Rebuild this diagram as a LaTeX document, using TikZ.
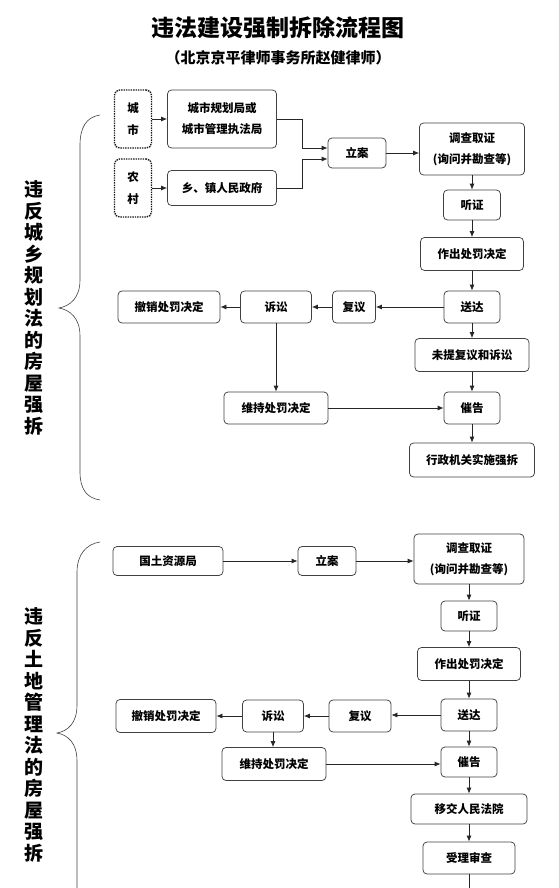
\documentclass[tikz,border=0pt]{standalone}
\usepackage{fontspec}
\setmainfont{Noto Sans CJK SC}
\usepackage{tikz}
\usetikzlibrary{shapes,arrows.meta,positioning,calc}

\begin{document}
\begin{tikzpicture}[
    x=1pt, y=-1pt,
    stepbox/.style={rectangle, draw=black!75, line width=0.75pt, rounded corners=4pt, minimum height=31pt, inner sep=2pt, align=center, font=\bfseries\fontsize{11.5}{21}\selectfont},
    areabox/.style={rectangle, draw=black!90, densely dotted, line width=1.4pt, rounded corners=5pt, minimum width=37pt, minimum height=58pt, align=center, font=\bfseries\fontsize{11.5}{22}\selectfont},
    arrow/.style={-{Latex[length=6pt,width=5pt]}, draw=black!85, line width=0.75pt},
    brace/.style={draw=black!75, line width=0.6pt},
    sidetext/.style={align=center, font=\bfseries\fontsize{19}{21.5}\selectfont}
]
\useasboundingbox (0,0) rectangle (558,888);

% Title
\node[font=\bfseries\fontsize{23}{27}\selectfont] (title) at (278,28) {违法建设强制拆除流程图};
\node[font=\bfseries\fontsize{15}{18}\selectfont] (subtitle) at (278,58) {（北京京平律师事务所赵健律师）};

% Upper part: urban and rural planning law
\node[sidetext] (law1) at (34,308) {违\\反\\城\\乡\\规\\划\\法\\的\\房\\屋\\强\\拆};
\draw[brace] (100,115) .. controls (86,117) and (80,128) .. (80,145) -- (80,280)
    .. controls (80,298) and (70,306) .. (59,308) .. controls (70,310) and (80,318) .. (80,336)
    -- (80,472) .. controls (80,488) and (86,498) .. (100,500);

\node[areabox] (city) at (133,119) {城\\市};
\node[areabox] (village) at (133,188) {农\\村};
\node[stepbox, minimum width=109pt, minimum height=58pt] (plan) at (222,119) {城市规划局或\\城市管理执法局};
\node[stepbox, minimum width=109pt, minimum height=35pt] (town) at (222,188) {乡、镇人民政府};
\node[stepbox, minimum width=58pt, minimum height=30pt] (case) at (357,153) {立案};
\node[stepbox, minimum width=105pt, minimum height=52pt] (survey) at (472,149) {调查取证\\(询问并勘查等)};
\node[stepbox, minimum width=57pt, minimum height=30pt] (hearing) at (472,205) {听证};
\node[stepbox, minimum width=103pt, minimum height=33pt] (decision) at (472,254) {作出处罚决定};
\node[stepbox, minimum width=56pt, minimum height=32pt] (deliver) at (472,307) {送达};
\node[stepbox, minimum width=43pt, minimum height=32pt] (review) at (354,307) {复议};
\node[stepbox, minimum width=71pt, minimum height=32pt] (lawsuit) at (276,307) {诉讼};
\node[stepbox, minimum width=102pt, minimum height=32pt] (revoke) at (169,307) {撤销处罚决定};
\node[stepbox, minimum width=114pt, minimum height=33pt] (noappeal) at (472,355) {未提复议和诉讼};
\node[stepbox, minimum width=104pt, minimum height=32pt] (uphold) at (276,408) {维持处罚决定};
\node[stepbox, minimum width=56pt, minimum height=32pt] (urge) at (472,408) {催告};
\node[stepbox, minimum width=125pt, minimum height=34pt] (enforce) at (472,460) {行政机关实施强拆};

\draw[arrow] (city) -- (plan);
\draw[arrow] (village) -- (town);
\draw[arrow] (plan.east) -| ([xshift=-25pt,yshift=5pt]case.west) -- ([yshift=5pt]case.west);
\draw[arrow] (town.east) -| ([xshift=-25pt,yshift=-6pt]case.west) -- ([yshift=-6pt]case.west);
\draw[arrow] (case.east) -- (case.east -| survey.west);
\draw[arrow] (survey) -- (hearing);
\draw[arrow] (hearing) -- (decision);
\draw[arrow] (decision) -- (deliver);
\draw[arrow] (deliver) -- (review);
\draw[arrow] (review) -- (lawsuit);
\draw[arrow] (lawsuit) -- (revoke);
\draw[arrow] (lawsuit) -- (uphold);
\draw[arrow] (deliver) -- (noappeal);
\draw[arrow] (noappeal) -- (urge);
\draw[arrow] (uphold) -- (urge);
\draw[arrow] (urge) -- (enforce);

% Lower part: land administration law
\node[sidetext] (law2) at (34,735) {违\\反\\土\\地\\管\\理\\法\\的\\房\\屋\\强\\拆};
\draw[brace] (100,542) .. controls (86,544) and (77,555) .. (77,572) -- (77,705)
    .. controls (77,723) and (68,731) .. (57,733) .. controls (68,735) and (77,743) .. (77,761)
    -- (77,888);

\node[stepbox, minimum width=110pt, minimum height=29pt] (land) at (168,561) {国土资源局};
\node[stepbox, minimum width=58pt, minimum height=29pt] (case2) at (327,561) {立案};
\node[stepbox, minimum width=110pt, minimum height=50pt] (survey2) at (469,559) {调查取证\\(询问并勘查等)};
\node[stepbox, minimum width=56pt, minimum height=30pt] (hearing2) at (469,616) {听证};
\node[stepbox, minimum width=103pt, minimum height=33pt] (decision2) at (469,664) {作出处罚决定};
\node[stepbox, minimum width=56pt, minimum height=32pt] (deliver2) at (469,715) {送达};
\node[stepbox, minimum width=62pt, minimum height=32pt] (review2) at (360,716) {复议};
\node[stepbox, minimum width=61pt, minimum height=32pt] (lawsuit2) at (273,716) {诉讼};
\node[stepbox, minimum width=100pt, minimum height=33pt] (revoke2) at (166,716) {撤销处罚决定};
\node[stepbox, minimum width=104pt, minimum height=33pt] (uphold2) at (274,764) {维持处罚决定};
\node[stepbox, minimum width=56pt, minimum height=30pt] (urge2) at (469,762) {催告};
\node[stepbox, minimum width=116pt, minimum height=30pt] (transfer) at (469,809) {移交人民法院};
\node[stepbox, minimum width=92pt, minimum height=32pt] (accept) at (469,858) {受理审查};
\coordinate (pageend) at (469,888);

\draw[arrow] (land) -- (case2);
\draw[arrow] (case2.east) -- (case2.east -| survey2.west);
\draw[arrow] (survey2) -- (hearing2);
\draw[arrow] (hearing2) -- (decision2);
\draw[arrow] (decision2) -- (deliver2);
\draw[arrow] (deliver2.west) -- (deliver2.west -| review2.east);
\draw[arrow] (review2) -- (lawsuit2);
\draw[arrow] (lawsuit2) -- (revoke2);
\draw[arrow] (lawsuit2.south) -- (lawsuit2.south |- uphold2.north);
\draw[arrow] (uphold2.east) -- (uphold2.east -| urge2.west);
\draw[arrow] (deliver2) -- (urge2);
\draw[arrow] (urge2) -- (transfer);
\draw[arrow] (transfer) -- (accept);
\draw[draw=black!85, line width=0.75pt] (accept) -- (pageend);

\end{tikzpicture}
\end{document}
